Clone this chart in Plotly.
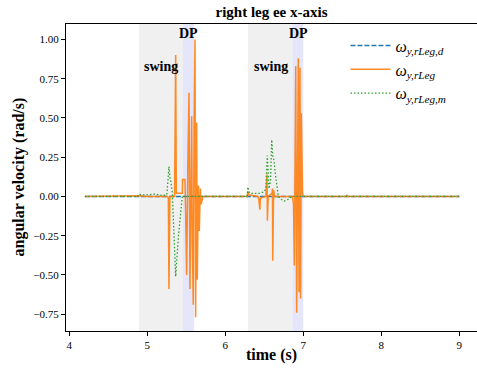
import plotly.graph_objects as go

# ---- data ----
t_des = [4.2, 5.0, 6.0, 7.0, 8.0, 9.0]
w_des = [0.0, 0.0, 0.0, 0.0, 0.0, 0.0]

t_leg = [4.20, 4.90, 5.00, 5.26, 5.27, 5.278, 5.29, 5.35, 5.364, 5.372, 5.40, 5.449, 5.452, 5.480, 5.483,
         5.490, 5.505, 5.520, 5.535, 5.547, 5.560, 5.569, 5.577, 5.590, 5.600, 5.612, 5.620, 5.633,
         5.641, 5.655, 5.667, 5.680, 5.690, 5.700, 5.715,
         6.28, 6.29, 6.30, 6.42, 6.43, 6.444, 6.45, 6.52, 6.535, 6.540, 6.55, 6.60, 6.605, 6.608,
         6.62, 6.63, 6.86, 6.875, 6.885, 6.895, 6.903, 6.915, 6.925, 6.936, 6.945, 6.950, 6.958,
         6.965, 6.975, 6.982, 6.99, 7.00, 7.555, 7.56, 7.565, 9.0]
w_leg = [0.0, 0.005, 0.0, 0.0, -0.01, -0.59, 0.0, 0.0, 0.90, 0.02, 0.02, 0.02, 0.107, 0.107, 0.107,
         -0.05, -0.50, 0.20, 0.66, -0.59, 0.30, 0.51, -0.28, -0.69, 0.45, 1.00, -0.77, 0.47,
         -0.53, 0.07, -0.22, 0.05, -0.05, -0.03, 0.0,
         0.0, 0.03, 0.01, 0.0, -0.02, -0.085, -0.01, 0.0, 0.14, -0.155, 0.0, 0.02, 0.05, -0.41,
         0.04, 0.0, 0.0, -0.05, -0.44, 0.10, 0.83, -0.74, 0.20, 0.88, -0.61, -0.39, 0.82,
         -0.65, 0.53, 0.05, 0.02, 0.0, 0.0, 0.012, 0.0, 0.0]

t_meas = [4.20, 4.88, 4.90, 4.92, 5.00, 5.10, 5.20, 5.25, 5.265, 5.278, 5.29, 5.30, 5.32, 5.364,
          5.40, 5.449, 5.60, 6.28, 6.29, 6.30, 6.32, 6.45, 6.50, 6.52, 6.538, 6.56, 6.58, 6.595,
          6.61, 6.625, 6.64, 6.68, 6.72, 6.756, 6.80, 6.85, 9.0]
w_meas = [0.0, 0.0, 0.015, 0.01, 0.01, 0.015, 0.005, 0.01, 0.10, 0.19, 0.12, 0.10, 0.03, -0.51,
          -0.25, 0.0, 0.0, 0.0, 0.06, 0.03, 0.02, 0.02, 0.03, 0.05, 0.26, 0.05, 0.10, 0.36,
          0.25, 0.23, 0.15, 0.0, -0.02, -0.03, -0.02, 0.0, 0.0]

swing_phases = [(4.894, 5.458), (6.29, 6.86)]
dp_phases = [(5.458, 5.60), (6.86, 7.00)]
swing_label_x = [5.18, 6.585]
dp_label_x = [5.53, 6.935]

FONT = "Liberation Serif"

fig = go.Figure()
fig.add_trace(go.Scatter(x=t_des, y=w_des, mode="lines", name="<i>ω</i><sub><i>y,rLeg,d</i></sub>",
                         line=dict(color="#1f77b4", width=1.5, dash="5px,2px")))
fig.add_trace(go.Scatter(x=t_leg, y=w_leg, mode="lines", name="<i>ω</i><sub><i>y,rLeg</i></sub>",
                         line=dict(color="#ff7f0e", width=1.5), opacity=0.9))
fig.add_trace(go.Scatter(x=t_meas, y=w_meas, mode="lines", name="<i>ω</i><sub><i>y,rLeg,m</i></sub>",
                         line=dict(color="#2ca02c", width=1.3, dash="1.5px,2px")))

for a, b in swing_phases:
    fig.add_vrect(x0=a, x1=b, fillcolor="#f0f0f0", line_width=0, layer="below")
for a, b in dp_phases:
    fig.add_vrect(x0=a, x1=b, fillcolor="#e6e6fa", line_width=0, layer="below")

for x in swing_label_x:
    fig.add_annotation(x=x, y=0.825, xref="x", yref="y", text="<b>swing</b>", showarrow=False,
                       font=dict(family=FONT, size=14, color="black"))
for x in dp_label_x:
    fig.add_annotation(x=x, y=1.035, xref="x", yref="y", text="<b>DP</b>", showarrow=False,
                       font=dict(family=FONT, size=14, color="black"))

fig.add_annotation(x=0.5, y=-0.078, xref="paper", yref="paper", text="<b>time (s)</b>", showarrow=False,
                   yanchor="middle", font=dict(family=FONT, size=16, color="black"))
fig.add_annotation(x=0, y=0.5, xref="paper", yref="paper", text="<b>angular velocity (rad/s)</b>",
                   showarrow=False, textangle=-90, xanchor="center", xshift=-48,
                   font=dict(family=FONT, size=16, color="black"))

fig.update_layout(
    width=477, height=374,
    margin=dict(l=66, r=0, t=24, b=43),
    paper_bgcolor="white", plot_bgcolor="white",
    font=dict(family=FONT, size=11, color="black"),
    title=dict(text="<b>right leg ee x-axis</b>", x=0.5, xref="paper", y=1 - 12 / 374, yanchor="middle",
               font=dict(family=FONT, size=15, color="black")),
    showlegend=True,
    legend=dict(x=0.68, y=0.985, xanchor="left", yanchor="top", bgcolor="rgba(0,0,0,0)",
                font=dict(family=FONT, size=16, color="black"), tracegroupgap=0,
                itemwidth=40),
    xaxis=dict(range=[3.958, 9.227], tickvals=[4, 5, 6, 7, 8, 9], showgrid=False, zeroline=False,
               showline=True, linecolor="black", linewidth=1, mirror=True,
               ticks="outside", ticklen=4, tickcolor="black"),
    yaxis=dict(range=[-0.857, 1.098], tickvals=[-0.75, -0.5, -0.25, 0, 0.25, 0.5, 0.75, 1.0],
               tickformat=".2f", showgrid=False, zeroline=False,
               showline=True, linecolor="black", linewidth=1,
               ticks="outside", ticklen=4, tickcolor="black"),
)

fig.write_html("out.html")
